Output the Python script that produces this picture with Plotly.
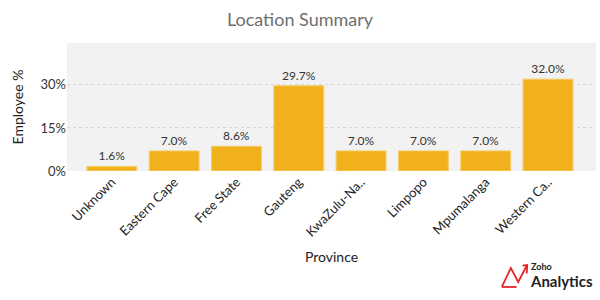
import plotly.graph_objects as go

categories = ["Unknown", "Eastern Cape", "Free State", "Gauteng", "KwaZulu-Na..", "Limpopo", "Mpumalanga", "Western Ca.."]
values = [1.6, 7.0, 8.6, 29.7, 7.0, 7.0, 7.0, 32.0]
labels = [f"{v:.1f}%" for v in values]
tick_vals = [0, 15, 30]
tick_text = ["0%", "15%", "30%"]

fig = go.Figure(go.Bar(
    x=categories, y=values, text=labels, textposition="outside",
    marker=dict(color="#F0B11D", line=dict(color="#F6CC66", width=1)), cliponaxis=False,
    textfont=dict(size=12, color="#333333"),
))

fig.update_layout(
    width=600, height=300,
    margin=dict(l=67, r=4, t=43, b=129),
    paper_bgcolor="white", plot_bgcolor="#f2f2f2",
    font=dict(family="Lato", size=13, color="#333333"),
    title=dict(text="Location Summary", x=0.5, xanchor="center", y=0.933, yanchor="middle",
               font=dict(size=18, color="#6f6f6f")),
    bargap=0.2,
    showlegend=False,
)
fig.update_xaxes(
    title=dict(text="Province", font=dict(size=14, color="#222222"), standoff=13),
    range=[-0.72, 7.77],
    tickangle=-45, tickfont=dict(size=13, color="#222222"), showgrid=False,
    showline=False, ticks="",
)
fig.update_yaxes(
    title=dict(text="Employee %", font=dict(size=14, color="#222222"), standoff=13),
    range=[0, 44.6], tickvals=tick_vals, ticktext=tick_text,
    tickfont=dict(size=13, color="#333333"),
    showgrid=True, gridcolor="#d6d6d6", griddash="3px,3px", gridwidth=1,
    zeroline=False,
)

# Zoho Analytics logo
fig.add_annotation(x=0.873, y=-0.745, xref="paper", yref="paper", showarrow=False,
                   text="<b>Zoho</b>", xanchor="left", yanchor="middle",
                   font=dict(size=9, color="#222222", family="Lato"))
fig.add_annotation(x=0.872, y=-0.862, xref="paper", yref="paper", showarrow=False,
                   text="<b>Analytics</b>", xanchor="left", yanchor="middle",
                   font=dict(size=15, color="#222222", family="Lato"))
fig.add_shape(type="path", xref="paper", yref="paper",
              path="M 0.822 -0.906 L 0.839 -0.758 L 0.853 -0.867 L 0.862 -0.795 L 0.869 -0.74",
              line=dict(color="#e42527", width=1.8))
fig.add_shape(type="path", xref="paper", yref="paper",
              path="M 0.822 -0.906 L 0.850 -0.906",
              line=dict(color="#e42527", width=1.8))
fig.add_shape(type="path", xref="paper", yref="paper",
              path="M 0.861 -0.74 L 0.870 -0.735 L 0.869 -0.80",
              line=dict(color="#e42527", width=1.8))

fig.write_html("out.html")
